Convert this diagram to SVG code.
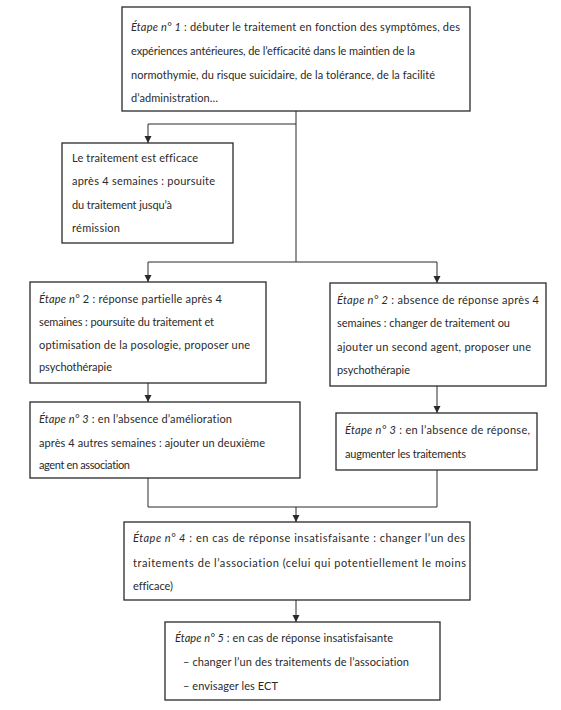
<svg xmlns="http://www.w3.org/2000/svg" width="561" height="710" viewBox="0 0 561 710">
<defs>
<style>
.box{fill:#fff;stroke:#2a2a2a;stroke-width:1.3}
.ln{fill:none;stroke:#2a2a2a;stroke-width:1}
text{font-family:Lato,"Liberation Sans",sans-serif;font-size:11px;fill:#2a2a2a;font-variant-ligatures:none}
.i{font-style:italic}
</style>
<marker id="ah" markerUnits="userSpaceOnUse" markerWidth="7" markerHeight="8" refX="7" refY="4" orient="auto" viewBox="0 0 7 8">
<path d="M0,0.5 L7,4 L0,7.5 Z" fill="#2a2a2a"/>
</marker>
</defs>
<rect width="561" height="710" fill="#fff"/>
<g id="connectors">
<path class="ln" d="M296,111 V262"/>
<path class="ln" d="M296,124 H148 V143" marker-end="url(#ah)"/>
<path class="ln" d="M148,262 H437"/>
<path class="ln" d="M148,262 V282" marker-end="url(#ah)"/>
<path class="ln" d="M437,262 V283" marker-end="url(#ah)"/>
<path class="ln" d="M148,383 V402" marker-end="url(#ah)"/>
<path class="ln" d="M437,386 V413" marker-end="url(#ah)"/>
<path class="ln" d="M148,478 V507 H437 V470"/>
<path class="ln" d="M296,507 V522" marker-end="url(#ah)"/>
<path class="ln" d="M296,600 V622" marker-end="url(#ah)"/>
</g>
<g id="step1">
<rect class="box" x="122" y="7" width="348" height="104"/>
<text x="131" y="31" textLength="329"><tspan class="i">Étape n° 1</tspan> : débuter le traitement en fonction des symptômes, des</text>
<text x="131" y="55" textLength="284">expériences antérieures, de l’efficacité dans le maintien de la</text>
<text x="131" y="79" textLength="304">normothymie, du risque suicidaire, de la tolérance, de la facilité</text>
<text x="131" y="102" textLength="87">d’administration…</text>
</g>
<g id="efficace">
<rect class="box" x="62" y="143" width="171" height="100"/>
<text x="72" y="162" textLength="126">Le traitement est efficace</text>
<text x="72" y="185" textLength="143">après 4 semaines : poursuite</text>
<text x="72" y="209" textLength="100">du traitement jusqu’à</text>
<text x="72" y="232" textLength="48">rémission</text>
</g>
<g id="step2-partial">
<rect class="box" x="30" y="282" width="236" height="101"/>
<text x="39" y="303" textLength="183"><tspan class="i">Étape n°</tspan> 2 : réponse partielle après 4</text>
<text x="39" y="326" textLength="175">semaines : poursuite du traitement et</text>
<text x="39" y="349" textLength="211">optimisation de la posologie, proposer une</text>
<text x="39" y="371" textLength="73">psychothérapie</text>
</g>
<g id="step2-absence">
<rect class="box" x="330" y="283" width="216" height="103"/>
<text x="337" y="304" textLength="202"><tspan class="i">Étape n° 2</tspan> : absence de réponse après 4</text>
<text x="337" y="327" textLength="173">semaines : changer de traitement ou</text>
<text x="337" y="351" textLength="194">ajouter un second agent, proposer une</text>
<text x="337" y="374" textLength="73">psychothérapie</text>
</g>
<g id="step3-left">
<rect class="box" x="30" y="402" width="270" height="76"/>
<text x="39" y="423" textLength="193"><tspan class="i">Étape n° 3</tspan> : en l’absence d’amélioration</text>
<text x="39" y="447" textLength="226">après 4 autres semaines : ajouter un deuxième</text>
<text x="39" y="469" textLength="91">agent en association</text>
</g>
<g id="step3-right">
<rect class="box" x="336" y="413" width="201" height="57"/>
<text x="345" y="434" textLength="185"><tspan class="i">Étape n° 3</tspan> : en l’absence de réponse,</text>
<text x="345" y="458" textLength="121">augmenter les traitements</text>
</g>
<g id="step4">
<rect class="box" x="124" y="522" width="346" height="78"/>
<text x="133" y="542" textLength="332"><tspan class="i">Étape n° 4</tspan> : en cas de réponse insatisfaisante : changer l’un des</text>
<text x="133" y="567" textLength="333">traitements de l’association (celui qui potentiellement le moins</text>
<text x="133" y="590" textLength="40">efficace)</text>
</g>
<g id="step5">
<rect class="box" x="165" y="622" width="275" height="78"/>
<text x="175" y="642" textLength="218"><tspan class="i">Étape n° 5</tspan> : en cas de réponse insatisfaisante</text>
<text x="183" y="666" textLength="226">– changer l’un des traitements de l’association</text>
<text x="183" y="690" textLength="95">– envisager les ECT</text>
</g>
</svg>
